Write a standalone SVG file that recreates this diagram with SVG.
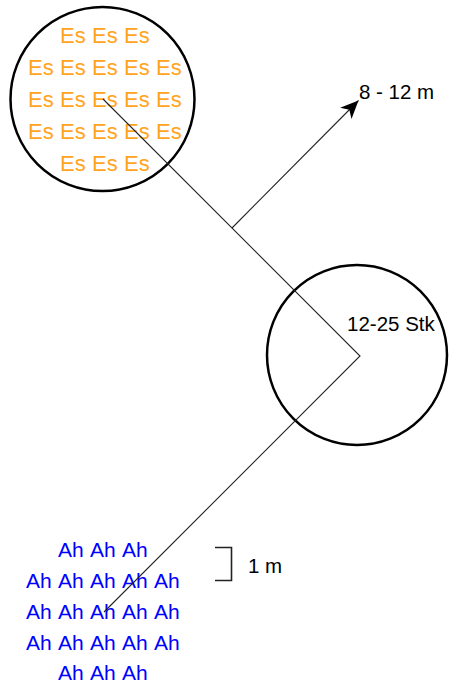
<svg xmlns="http://www.w3.org/2000/svg" width="449" height="685" viewBox="0 0 449 685">
<style>
.circ{fill:none;stroke:#000;stroke-width:2.5}
.ln{fill:none;stroke:#222;stroke-width:1.1}
.es{font-family:"Liberation Sans",Arial,sans-serif;font-size:22px;fill:#FFA41C}
.ah{font-family:"Liberation Sans",Arial,sans-serif;font-size:21px;fill:#0000FF}
.lbl{font-family:"Liberation Sans",Arial,sans-serif;font-size:20.5px;fill:#000}
</style>
<defs>
<marker id="arr" markerUnits="userSpaceOnUse" viewBox="-19 -9 20 18" refX="0" refY="0" markerWidth="20" markerHeight="18" orient="auto">
<path d="M0,0 L-18,-8 L-13,0 L-18,8 Z" fill="#000"/>
</marker>
</defs>
<g id="circle-es">
<circle class="circ" cx="102.5" cy="99" r="92"/>
<text class="es" y="43"><tspan x="60">Es</tspan><tspan x="92">Es</tspan><tspan x="124">Es</tspan></text>
<text class="es" y="75"><tspan x="28">Es</tspan><tspan x="60">Es</tspan><tspan x="92">Es</tspan><tspan x="124">Es</tspan><tspan x="156">Es</tspan></text>
<text class="es" y="107"><tspan x="28">Es</tspan><tspan x="60">Es</tspan><tspan x="92">Es</tspan><tspan x="124">Es</tspan><tspan x="156">Es</tspan></text>
<text class="es" y="139"><tspan x="28">Es</tspan><tspan x="60">Es</tspan><tspan x="92">Es</tspan><tspan x="124">Es</tspan><tspan x="156">Es</tspan></text>
<text class="es" y="171"><tspan x="60">Es</tspan><tspan x="92">Es</tspan><tspan x="124">Es</tspan></text>
</g>
<g id="circle-stk">
<circle class="circ" cx="357" cy="355" r="90"/>
<text class="lbl" x="347" y="331" font-size="21">12-25 Stk</text>
</g>
<g id="ah-group">
<text class="ah" y="557"><tspan x="58">Ah</tspan><tspan x="90">Ah</tspan><tspan x="122">Ah</tspan></text>
<text class="ah" y="588"><tspan x="26">Ah</tspan><tspan x="58">Ah</tspan><tspan x="90">Ah</tspan><tspan x="122">Ah</tspan><tspan x="154">Ah</tspan></text>
<text class="ah" y="619"><tspan x="26">Ah</tspan><tspan x="58">Ah</tspan><tspan x="90">Ah</tspan><tspan x="122">Ah</tspan><tspan x="154">Ah</tspan></text>
<text class="ah" y="650"><tspan x="26">Ah</tspan><tspan x="58">Ah</tspan><tspan x="90">Ah</tspan><tspan x="122">Ah</tspan><tspan x="154">Ah</tspan></text>
<text class="ah" y="680"><tspan x="58">Ah</tspan><tspan x="90">Ah</tspan><tspan x="122">Ah</tspan></text>
</g>
<g id="distance-label">
<text class="lbl" x="359" y="99">8 - 12 m</text>
</g>
<g id="scale">
<path d="M215,547.5 H231.5 V580.5 H215" fill="none" stroke="#222" stroke-width="1.6"/>
<text class="lbl" x="248" y="573">1 m</text>
</g>
<g id="connectors">
<polyline class="ln" points="103,99 360,356 104,612"/>
<line class="ln" x1="232" y1="228" x2="358.5" y2="100.5" marker-end="url(#arr)"/>
</g>
</svg>
